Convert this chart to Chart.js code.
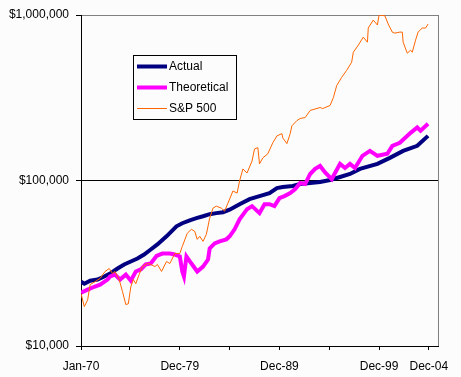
<!DOCTYPE html>
<html>
<head>
<meta charset="utf-8">
<script src="https://cdn.jsdelivr.net/npm/chart.js@4/dist/chart.umd.min.js"></script>
<style>
html,body{margin:0;padding:0;background:#fcfcfc;}
#wrap{width:461px;height:377px;position:relative;}
</style>
</head>
<body>
<div id="wrap"><canvas id="c" width="461" height="377"></canvas></div>
<script>
// Month index: 0 = Jan-70
const actualMonths = [0,4,11,20,28,35,44,52,60,68,76,84,92,103,115,122,131,139,147,155,163,171,179,191,203,215,227,236,243,255,264,276,288,300,312,324,336,357,372,388,405,418];
const actualValues = [24500,23800,24800,25200,26300,27400,29400,31100,32400,33800,35700,38300,41100,46000,52900,55200,57500,59200,60800,62600,63500,64300,66600,71900,77200,80500,83900,90000,91300,92600,95200,96600,97900,100700,105000,109500,117500,126000,137000,151000,162000,186000];

const theoMonths = [0,8,16,23,32,35,41,47,54,60,66,72,78,84,91,98,107,113,119,122,124,127,133,140,147,153,155,161,167,175,179,185,191,200,206,215,221,227,233,239,245,252,258,264,270,276,282,288,294,302,312,318,324,330,339,348,357,369,375,384,397,405,409,418];
const theoValues = [21000,21900,22800,23500,25200,26300,27000,25200,27000,24800,28200,29000,31100,31500,35000,36200,36200,35700,34800,28200,26300,34800,31500,28200,30200,33300,38900,41700,42900,44100,46000,50700,58300,67100,70000,63500,71900,71900,70000,78300,80500,83900,88800,96600,95200,109500,117500,122500,112000,102000,126000,119000,126000,119000,141000,151000,141000,145000,162000,169000,194000,209000,200000,220000];

const spMonths = [0,4,8,11,17,23,29,34,38,41,46,50,54,57,60,63,66,70,74,80,84,89,92,97,103,107,113,119,122,128,133,137,140,143,147,151,155,159,163,169,173,177,183,188,191,195,200,206,209,213,215,219,225,231,236,242,243,248,252,254,260,264,270,276,288,291,300,304,308,314,320,326,328,334,340,345,346,352,357,359,366,370,375,378,384,387,388,393,397,399,403,406,411,415,418];
const spValues = [20700,17300,19000,23500,24500,25600,28200,29400,27400,28200,25200,21300,17800,18000,22800,25200,23800,27000,30200,31500,31100,30200,31100,28200,32400,31500,36200,36200,40000,48000,50700,49300,44100,46000,42900,47300,59200,68100,70000,68100,65300,73000,86400,83900,99300,117500,111000,131000,155000,158000,126000,137000,145000,169000,186000,192000,181000,167000,192000,214000,230000,237000,240000,265000,276000,272000,284000,317000,375000,420000,463000,518000,596000,657000,735000,685000,834000,932000,870000,1000000,990000,882000,788000,777000,788000,788000,685000,588000,613000,596000,705000,788000,834000,834000,882000];

const seriesNames = ['Actual','Theoretical','S&P 500'];
const xTickMonths = [0,59,119,179,239,299,359,419];
const xTickLabels = ['Jan-70','','Dec-79','','Dec-89','','Dec-99','Dec-04'];
const yTickValues = [10000,100000,1000000];
const yTickLabels = ['$10,000','$100,000','$1,000,000'];

function pts(ms, vs){ return ms.map((m,i)=>({x:m,y:vs[i]})); }

const FONT = {family:'"Liberation Sans", Arial, sans-serif', size:12};

const borderPlugin = {
  id:'borderPlugin',
  afterDraw(chart){
    const {ctx, chartArea:a} = chart;
    ctx.save();
    ctx.strokeStyle = '#808080';
    ctx.lineWidth = 1;
    ctx.beginPath();
    ctx.moveTo(Math.round(a.right)+0.5, a.top);
    ctx.lineTo(Math.round(a.right)+0.5, a.bottom);
    ctx.stroke();
    const bx=133, by=55, bw=103, bh=64;
    ctx.fillStyle='#fcfcfc';
    ctx.fillRect(bx,by,bw,bh);
    ctx.strokeStyle='#000';
    ctx.strokeRect(bx+0.5,by+0.5,bw,bh);
    ctx.font = '12px "Liberation Sans", Arial, sans-serif';
    ctx.textBaseline='middle';
    ctx.textAlign='left';
    chart.data.datasets.forEach((ds,i)=>{
      const y = 66 + i*21;
      ctx.strokeStyle = ds.borderColor;
      ctx.lineWidth = ds.borderWidth;
      ctx.beginPath();
      ctx.moveTo(137,y+0.5);
      ctx.lineTo(167,y+0.5);
      ctx.stroke();
      ctx.fillStyle='#000';
      ctx.fillText(ds.label,169,y+1);
    });
    ctx.restore();
  }
};

new Chart(document.getElementById('c'),{
  type:'line',
  data:{
    datasets:[
      {label:seriesNames[0], data:pts(actualMonths,actualValues), borderColor:'#000080', borderWidth:4, pointRadius:0, tension:0, order:2},
      {label:seriesNames[1], data:pts(theoMonths,theoValues), borderColor:'#ff00ff', borderWidth:4, pointRadius:0, tension:0, order:1},
      {label:seriesNames[2], data:pts(spMonths,spValues), borderColor:'#ff6600', borderWidth:1, pointRadius:0, tension:0, order:0}
    ]
  },
  options:{
    responsive:false,
    animation:false,
    events:[],
    layout:{padding:{left:0,top:15,right:23,bottom:0}},
    plugins:{legend:{display:false},tooltip:{enabled:false}},
    scales:{
      x:{
        type:'linear', min:0, max:430,
        afterBuildTicks(s){ s.ticks = xTickMonths.map(v=>({value:v})); },
        afterFit(s){ s.height = 31; },
        ticks:{autoSkip:false, maxRotation:0, color:'#000', font:FONT, padding:9,
          callback(v){ const i = xTickMonths.indexOf(v); return i>=0 ? xTickLabels[i] : ''; }},
        grid:{drawOnChartArea:false, drawTicks:true, tickLength:4, tickColor:'#000'},
        border:{color:'#000', width:1}
      },
      y:{
        type:'logarithmic', min:10000, max:1000000,
        afterBuildTicks(s){ s.ticks = yTickValues.map(v=>({value:v})); },
        afterFit(s){ s.width = 81; },
        ticks:{color:'#000', font:FONT, padding:7,
          callback(v){ const i = yTickValues.indexOf(v); return i>=0 ? yTickLabels[i] : ''; }},
        grid:{drawTicks:true, tickLength:5, tickColor:'#000',
          color(ctx){ const v = ctx.tick && ctx.tick.value; return v===100000 ? '#000' : (v===1000000 ? '#808080' : 'rgba(0,0,0,0)'); }},
        border:{color:'#000', width:1}
      }
    }
  },
  plugins:[borderPlugin]
});
</script>
</body>
</html>
